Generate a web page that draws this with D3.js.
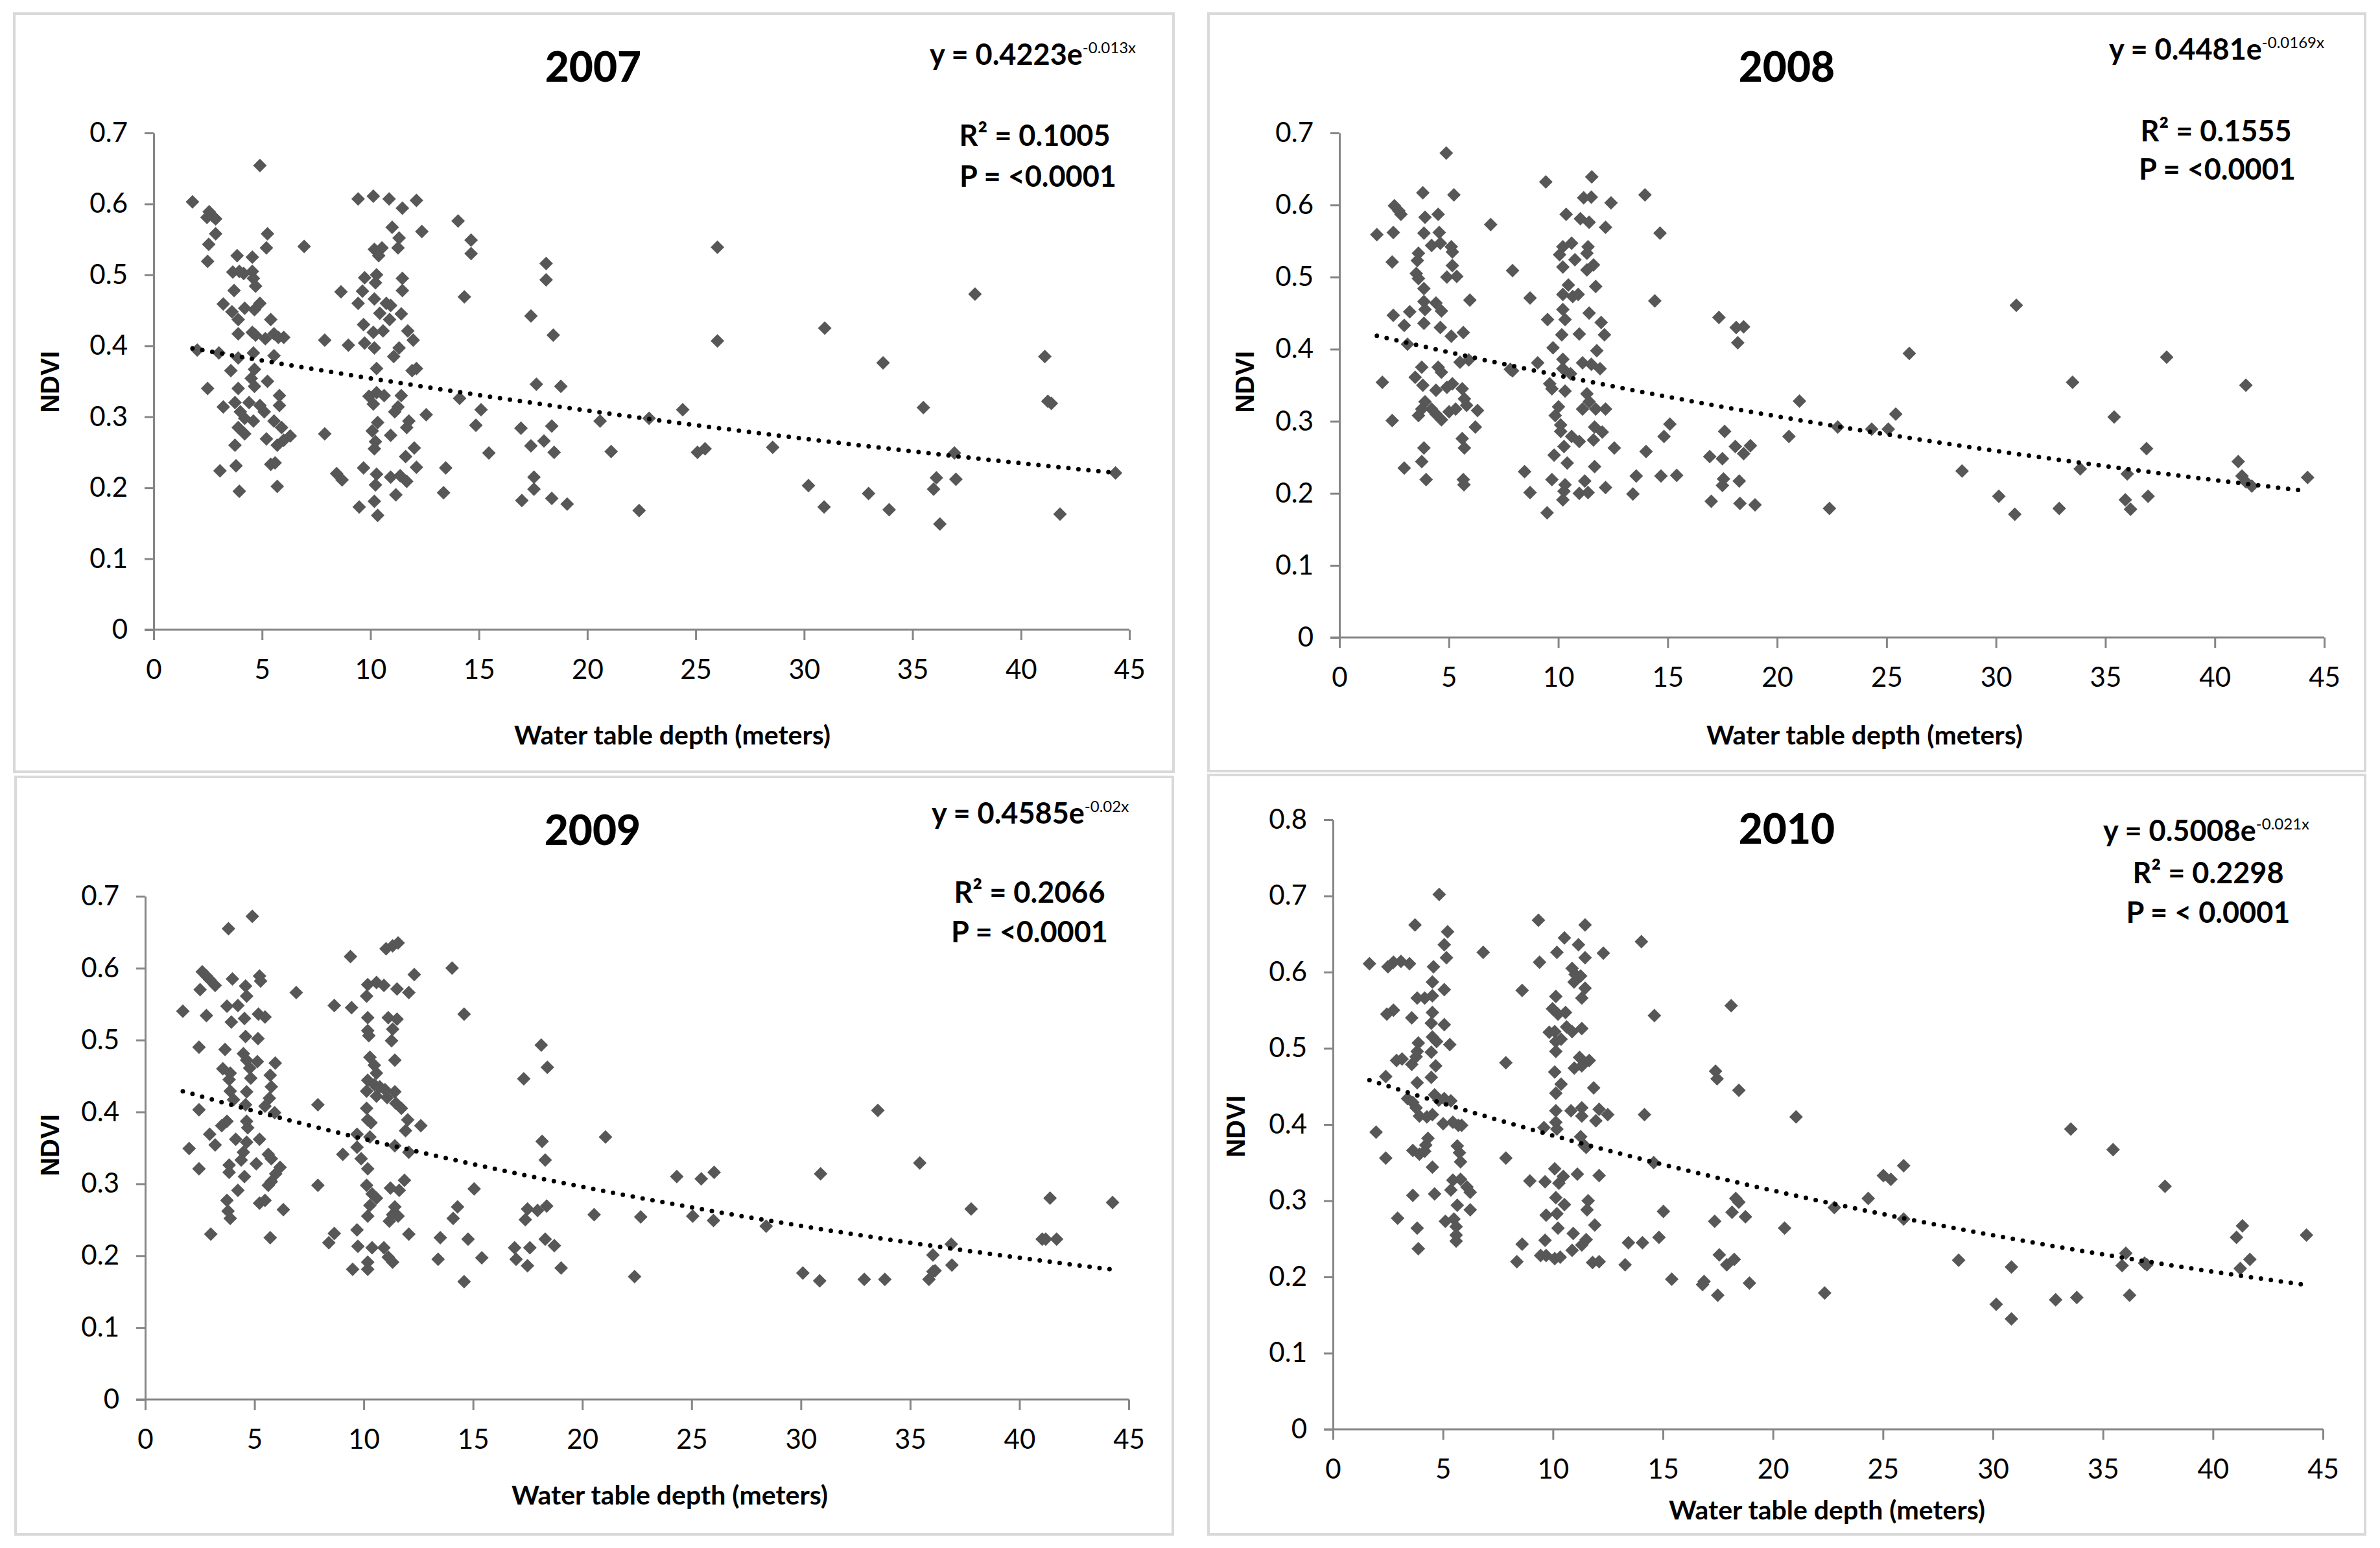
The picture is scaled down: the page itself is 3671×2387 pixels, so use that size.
<!DOCTYPE html>
<html>
<head>
<meta charset="utf-8">
<script src="https://cdn.jsdelivr.net/npm/d3@7"></script>
<style>
  body { margin: 0; background: #fff; }
  text { font-family: Lato, 'Open Sans', sans-serif; fill: #000; }
</style>
</head>
<body>
<div id="chart"></div>
<script>
// ---- data: [water table depth (m), NDVI] ----
const years = ['2007', '2008', '2009', '2010']
const coefA = ['0.4223', '0.4481', '0.4585', '0.5008']
const coefB = ['-0.013x', '-0.0169x', '-0.02x', '-0.021x']
const r2Text = ['R² = 0.1005', 'R² = 0.1555', 'R² = 0.2066', 'R² = 0.2298']
const pText = ['P = <0.0001', 'P = <0.0001', 'P = <0.0001', 'P = < 0.0001']
const yMaxes = [0.7, 0.7, 0.7, 0.8]
const xTicks = [0, 5, 10, 15, 20, 25, 30, 35, 40, 45]

const data2007 = [
  [4.90,0.654],[1.79,0.603],[2.56,0.589],[2.71,0.583],[2.86,0.579],[2.46,0.581],[2.86,0.558],[2.54,0.543],
  [2.49,0.519],[5.25,0.558],[5.20,0.538],[6.94,0.540],[3.85,0.527],[4.55,0.525],[3.65,0.504],[3.95,0.505],
  [4.15,0.502],[4.55,0.505],[4.60,0.495],[4.70,0.484],[3.71,0.478],[3.21,0.459],[3.61,0.448],[4.20,0.453],
  [4.65,0.451],[4.90,0.460],[3.90,0.437],[5.40,0.437],[3.90,0.417],[4.55,0.419],[4.70,0.415],[5.15,0.410],
  [5.55,0.417],[6.00,0.412],[5.75,0.412],[2.01,0.394],[3.01,0.390],[3.90,0.383],[4.60,0.390],[5.55,0.386],
  [3.56,0.365],[4.65,0.367],[4.50,0.354],[4.65,0.343],[5.25,0.350],[2.49,0.340],[3.90,0.340],[5.80,0.330],
  [3.21,0.314],[3.75,0.320],[4.00,0.307],[4.40,0.320],[4.90,0.316],[5.10,0.307],[5.80,0.316],[4.20,0.298],
  [4.60,0.294],[3.90,0.285],[4.20,0.276],[5.55,0.294],[5.90,0.285],[6.30,0.273],[5.20,0.269],[5.70,0.260],
  [6.00,0.267],[3.75,0.260],[5.60,0.235],[5.40,0.233],[3.06,0.224],[3.80,0.231],[3.95,0.195],[5.70,0.202],
  [9.43,0.607],[10.13,0.611],[10.86,0.607],[11.47,0.594],[12.12,0.605],[11.00,0.567],[11.32,0.552],[11.27,0.538],
  [12.37,0.561],[10.18,0.536],[10.53,0.538],[10.38,0.527],[11.47,0.495],[11.47,0.478],[9.73,0.496],[10.28,0.500],
  [10.23,0.489],[8.64,0.476],[9.63,0.477],[9.43,0.460],[10.18,0.466],[10.73,0.460],[10.93,0.457],[10.43,0.446],
  [10.88,0.437],[11.42,0.445],[9.68,0.430],[10.13,0.419],[10.58,0.421],[11.72,0.421],[11.97,0.408],[8.98,0.401],
  [9.73,0.404],[10.18,0.397],[11.32,0.397],[11.07,0.385],[7.89,0.408],[10.28,0.368],[11.92,0.365],[12.12,0.368],
  [9.93,0.329],[10.28,0.334],[10.63,0.330],[11.42,0.330],[11.27,0.314],[10.13,0.318],[11.12,0.307],[12.57,0.303],
  [10.33,0.292],[11.77,0.294],[11.67,0.285],[10.08,0.280],[10.93,0.274],[10.23,0.265],[10.18,0.255],[12.02,0.256],
  [11.62,0.244],[7.89,0.276],[9.68,0.228],[12.12,0.229],[10.28,0.219],[10.93,0.215],[11.37,0.217],[11.67,0.209],
  [10.23,0.204],[11.17,0.190],[9.48,0.173],[10.18,0.181],[10.33,0.161],[8.44,0.220],[8.69,0.211],[13.47,0.228],
  [13.37,0.193],[14.04,0.576],[14.64,0.549],[14.64,0.530],[14.33,0.469],[14.11,0.326],[15.10,0.310],[14.86,0.288],
  [15.46,0.249],[17.40,0.442],[18.10,0.516],[18.10,0.493],[18.43,0.415],[17.65,0.346],[18.78,0.343],[16.94,0.284],
  [17.40,0.259],[18.00,0.266],[18.36,0.287],[18.47,0.250],[17.54,0.215],[17.54,0.198],[16.98,0.182],[18.36,0.185],
  [19.07,0.177],[20.59,0.294],[21.10,0.251],[22.39,0.168],[22.85,0.298],[24.40,0.310],[25.08,0.250],[25.43,0.255],
  [26.00,0.539],[26.00,0.407],[28.55,0.257],[30.20,0.203],[30.95,0.425],[30.92,0.173],[32.97,0.192],[33.64,0.376],
  [33.92,0.169],[35.50,0.313],[35.97,0.198],[36.10,0.214],[36.26,0.149],[36.93,0.249],[37.00,0.212],[37.88,0.473],
  [41.10,0.385],[41.24,0.322],[41.40,0.319],[41.80,0.163],[44.36,0.221]
]

const data2008 = [
  [4.88,0.672],[3.81,0.617],[5.23,0.614],[2.51,0.599],[2.71,0.592],[2.81,0.587],[3.91,0.583],[4.51,0.587],
  [1.71,0.559],[2.46,0.562],[3.86,0.561],[4.56,0.562],[4.21,0.544],[4.61,0.547],[5.11,0.542],[5.16,0.535],
  [6.91,0.573],[3.61,0.533],[3.56,0.523],[2.41,0.521],[3.51,0.505],[3.61,0.498],[5.16,0.516],[4.91,0.500],
  [5.36,0.501],[3.86,0.484],[7.91,0.509],[3.86,0.466],[4.41,0.464],[4.66,0.453],[5.96,0.468],[3.91,0.455],
  [2.46,0.447],[3.21,0.452],[2.96,0.433],[3.86,0.436],[4.61,0.430],[5.11,0.418],[5.66,0.423],[3.11,0.407],
  [5.51,0.382],[5.91,0.385],[3.76,0.375],[4.51,0.375],[4.66,0.368],[3.46,0.361],[3.81,0.350],[1.96,0.354],
  [4.41,0.343],[4.91,0.347],[5.16,0.352],[5.61,0.345],[3.91,0.327],[3.76,0.317],[4.21,0.317],[4.41,0.310],
  [5.01,0.313],[5.31,0.317],[5.71,0.331],[5.81,0.322],[6.31,0.315],[3.61,0.308],[4.66,0.302],[2.41,0.301],
  [6.21,0.292],[5.61,0.276],[5.71,0.263],[3.86,0.263],[3.76,0.244],[2.96,0.235],[3.96,0.219],[5.66,0.219],
  [5.69,0.212],[7.81,0.372],
  [9.43,0.632],[11.53,0.639],[13.96,0.614],[11.16,0.610],[11.51,0.611],[12.41,0.603],[10.36,0.587],[11.01,0.581],
  [11.41,0.576],[12.16,0.569],[10.21,0.542],[10.61,0.547],[10.06,0.531],[10.76,0.524],[11.36,0.542],[11.31,0.533],
  [11.61,0.517],[11.31,0.510],[10.21,0.514],[10.46,0.489],[11.71,0.487],[10.21,0.476],[10.66,0.473],[10.91,0.476],
  [8.71,0.471],[10.21,0.455],[10.31,0.441],[9.51,0.441],[11.41,0.450],[11.96,0.437],[10.16,0.420],[10.96,0.421],
  [12.11,0.420],[9.76,0.402],[11.76,0.398],[9.06,0.381],[10.21,0.386],[10.21,0.373],[11.11,0.381],[11.51,0.379],
  [11.91,0.373],[7.91,0.370],[10.56,0.366],[9.61,0.352],[9.71,0.345],[10.31,0.342],[11.31,0.338],[11.41,0.327],
  [11.71,0.317],[12.16,0.317],[11.11,0.317],[10.01,0.320],[9.86,0.308],[10.11,0.295],[10.11,0.286],[10.61,0.279],
  [10.96,0.272],[11.66,0.292],[12.01,0.285],[11.61,0.274],[10.26,0.265],[12.56,0.263],[9.81,0.253],[10.41,0.242],
  [11.66,0.237],[14.01,0.258],[8.46,0.230],[9.71,0.219],[10.31,0.212],[10.26,0.203],[11.21,0.217],[10.96,0.200],
  [11.36,0.201],[12.16,0.208],[10.21,0.191],[8.71,0.201],[9.49,0.173],[13.56,0.224],[13.41,0.199],
  [14.65,0.561],[14.41,0.467],[15.10,0.296],[14.83,0.279],[14.69,0.224],[15.41,0.225],[17.34,0.444],[18.13,0.430],
  [18.47,0.431],[18.20,0.409],[16.92,0.251],[17.50,0.248],[17.60,0.286],[17.55,0.220],[17.50,0.211],[16.99,0.189],
  [18.09,0.265],[18.78,0.266],[18.47,0.255],[18.27,0.217],[18.30,0.186],[18.99,0.184],[20.54,0.279],[21.02,0.328],
  [22.39,0.179],[22.77,0.292],[24.32,0.289],[25.08,0.289],[25.42,0.310],[26.04,0.394],[28.45,0.231],[30.13,0.196],
  [30.86,0.171],[30.93,0.461],[32.89,0.179],[33.50,0.354],[33.85,0.234],[35.40,0.306],[35.91,0.191],[36.15,0.178],
  [36.00,0.227],[36.88,0.262],[36.95,0.196],[37.80,0.389],[41.07,0.244],[41.24,0.224],[41.42,0.350],[41.69,0.210],
  [44.24,0.222],[41.42,0.216]
]

const data2009 = [
  [4.90,0.672],[3.81,0.655],[2.61,0.595],[2.80,0.589],[2.95,0.584],[3.20,0.576],[2.51,0.570],[3.99,0.585],
  [5.23,0.589],[5.28,0.582],[4.59,0.575],[4.64,0.561],[6.91,0.566],[1.72,0.540],[2.80,0.534],[3.74,0.547],
  [4.24,0.548],[3.94,0.525],[4.54,0.530],[5.18,0.536],[5.48,0.532],[4.59,0.505],[5.16,0.502],[2.46,0.490],
  [3.65,0.487],[4.49,0.481],[4.64,0.472],[5.13,0.470],[5.95,0.468],[3.55,0.460],[4.78,0.461],[3.89,0.454],
  [3.84,0.445],[4.83,0.447],[5.72,0.451],[5.77,0.435],[3.89,0.429],[4.64,0.428],[5.68,0.419],[4.04,0.417],
  [4.59,0.410],[5.48,0.408],[5.92,0.399],[2.46,0.403],[3.74,0.387],[3.50,0.381],[4.64,0.387],[4.69,0.378],
  [2.95,0.369],[4.14,0.362],[5.23,0.362],[4.64,0.358],[2.01,0.349],[3.20,0.354],[4.49,0.344],[5.63,0.341],
  [5.77,0.335],[4.39,0.333],[5.08,0.328],[2.46,0.321],[3.84,0.326],[3.84,0.316],[4.54,0.310],[6.17,0.323],
  [5.97,0.314],[5.77,0.303],[5.63,0.298],[4.24,0.291],[7.90,0.298],[7.90,0.410],[3.74,0.277],[5.23,0.273],
  [5.48,0.277],[3.79,0.262],[3.89,0.252],[6.32,0.264],[3.00,0.230],[5.72,0.225],[8.65,0.231],[8.40,0.218],
  [9.39,0.616],[11.02,0.627],[11.32,0.631],[11.57,0.635],[14.04,0.600],[12.31,0.591],[10.18,0.577],[10.58,0.580],
  [10.92,0.576],[11.52,0.571],[12.06,0.566],[10.13,0.561],[8.65,0.548],[9.44,0.545],[10.18,0.531],[11.12,0.531],
  [11.52,0.529],[10.18,0.513],[10.23,0.506],[11.32,0.515],[11.27,0.499],[11.42,0.472],[10.28,0.476],[10.48,0.465],
  [10.58,0.454],[10.18,0.444],[10.48,0.438],[10.73,0.435],[10.97,0.431],[10.13,0.429],[10.58,0.422],[11.42,0.428],
  [11.07,0.420],[11.47,0.412],[11.72,0.405],[12.01,0.389],[11.91,0.374],[12.61,0.381],[10.13,0.405],[10.18,0.389],
  [10.33,0.385],[9.69,0.369],[10.28,0.365],[9.69,0.351],[9.88,0.335],[10.18,0.321],[9.04,0.341],[11.42,0.353],
  [12.06,0.344],[10.13,0.298],[10.38,0.286],[10.58,0.280],[11.86,0.305],[11.22,0.294],[11.62,0.291],[10.28,0.270],
  [10.18,0.255],[11.17,0.248],[11.42,0.268],[11.57,0.255],[11.32,0.257],[12.06,0.230],[9.69,0.236],[9.73,0.213],
  [10.38,0.211],[10.92,0.211],[11.12,0.198],[11.32,0.191],[9.49,0.181],[10.18,0.181],[10.18,0.191],[13.50,0.225],
  [13.40,0.195],[14.09,0.252],[14.29,0.268],
  [14.59,0.536],[15.05,0.293],[14.77,0.223],[15.40,0.197],[14.59,0.164],[17.32,0.446],[18.12,0.493],[18.40,0.462],
  [18.16,0.359],[18.30,0.333],[17.49,0.265],[17.39,0.250],[17.95,0.263],[18.37,0.269],[16.90,0.211],[16.97,0.195],
  [17.60,0.211],[18.30,0.223],[18.72,0.214],[17.49,0.186],[19.03,0.183],[20.54,0.257],[21.06,0.365],[22.39,0.171],
  [22.67,0.254],[24.32,0.310],[25.05,0.255],[25.44,0.307],[26.03,0.316],[26.00,0.249],[28.41,0.241],[30.09,0.176],
  [30.90,0.314],[30.86,0.165],[32.90,0.167],[33.52,0.402],[33.84,0.167],[35.44,0.329],[35.86,0.167],[36.04,0.178],
  [36.14,0.179],[36.04,0.201],[36.88,0.216],[36.91,0.187],[37.79,0.265],[41.04,0.223],[41.20,0.223],[41.40,0.280],
  [41.70,0.223],[44.26,0.274]
]

const data2010 = [
  [4.83,0.702],[3.73,0.662],[5.21,0.653],[5.06,0.636],[5.16,0.619],[6.83,0.626],[1.66,0.611],[2.50,0.607],
  [2.75,0.613],[3.09,0.614],[3.48,0.611],[4.57,0.607],[4.52,0.587],[5.06,0.577],[3.83,0.566],[4.17,0.566],
  [4.52,0.569],[8.60,0.576],[2.45,0.545],[2.75,0.550],[3.58,0.540],[4.52,0.547],[4.47,0.533],[5.06,0.531],
  [4.52,0.515],[4.71,0.509],[5.31,0.505],[3.88,0.507],[3.83,0.496],[3.78,0.489],[4.47,0.495],[2.89,0.484],
  [3.14,0.486],[3.58,0.479],[4.67,0.477],[7.86,0.481],[2.40,0.463],[3.83,0.455],[4.47,0.462],[3.39,0.434],
  [3.63,0.429],[3.78,0.422],[3.93,0.411],[4.27,0.410],[4.62,0.439],[4.81,0.432],[5.06,0.434],[5.36,0.431],
  [5.70,0.399],[4.52,0.413],[5.01,0.401],[5.45,0.403],[5.85,0.399],[1.96,0.390],[4.32,0.382],[4.22,0.373],
  [3.63,0.366],[3.93,0.361],[4.17,0.365],[5.65,0.372],[5.75,0.363],[5.80,0.351],[2.40,0.356],[7.86,0.356],
  [4.52,0.344],[5.45,0.327],[5.80,0.328],[6.09,0.318],[5.36,0.314],[6.24,0.311],[3.63,0.307],[4.62,0.309],
  [5.65,0.294],[6.24,0.288],[2.94,0.277],[3.83,0.264],[5.11,0.273],[5.50,0.276],[5.60,0.266],[5.60,0.255],
  [5.60,0.247],[3.88,0.237],
  [9.34,0.668],[11.46,0.662],[14.02,0.640],[10.52,0.645],[11.16,0.636],[10.18,0.626],[11.46,0.619],[12.29,0.625],
  [9.39,0.613],[10.87,0.605],[11.01,0.597],[11.26,0.595],[10.96,0.587],[11.46,0.579],[11.31,0.566],[10.13,0.568],
  [9.98,0.552],[10.23,0.545],[10.57,0.547],[11.31,0.526],[9.83,0.521],[10.08,0.522],[10.62,0.528],[10.87,0.522],
  [10.13,0.509],[10.37,0.512],[10.13,0.496],[11.21,0.488],[11.65,0.484],[10.97,0.474],[11.31,0.477],[10.08,0.469],
  [10.37,0.453],[10.13,0.441],[11.85,0.448],[10.13,0.418],[10.82,0.418],[11.31,0.422],[11.31,0.411],[12.10,0.420],
  [11.95,0.405],[12.49,0.413],[14.16,0.413],[10.13,0.403],[9.59,0.396],[10.18,0.394],[11.26,0.384],[11.41,0.373],
  [11.51,0.370],[8.95,0.326],[9.64,0.325],[10.08,0.342],[10.47,0.332],[10.27,0.323],[11.11,0.335],[12.10,0.333],
  [10.13,0.304],[10.52,0.295],[11.60,0.300],[11.55,0.288],[9.69,0.281],[10.18,0.283],[10.23,0.264],[10.92,0.257],
  [11.90,0.268],[11.51,0.249],[11.31,0.242],[10.87,0.235],[9.64,0.248],[8.60,0.243],[8.36,0.220],[9.44,0.228],
  [9.69,0.228],[10.08,0.224],[10.33,0.226],[11.80,0.219],[12.10,0.220],[13.43,0.245],[14.07,0.245],[13.28,0.216],
  [14.61,0.543],[14.58,0.350],[15.02,0.286],[14.82,0.252],[15.40,0.197],[17.39,0.470],[17.46,0.460],[18.10,0.556],
  [18.45,0.445],[17.35,0.273],[16.87,0.194],[16.80,0.190],[17.56,0.229],[17.49,0.176],[17.90,0.216],[18.24,0.223],
  [18.14,0.285],[18.31,0.303],[18.45,0.298],[18.75,0.279],[18.93,0.192],[20.53,0.264],[21.05,0.410],[22.35,0.179],
  [22.79,0.291],[24.33,0.303],[25.02,0.333],[25.36,0.328],[25.94,0.346],[25.94,0.276],[28.44,0.222],[30.15,0.164],
  [30.84,0.213],[30.84,0.145],[32.85,0.170],[33.54,0.394],[33.81,0.173],[35.46,0.367],[35.87,0.215],[36.04,0.231],
  [36.21,0.176],[36.89,0.218],[37.00,0.216],[37.82,0.319],[41.07,0.252],[41.34,0.267],[41.24,0.211],[41.68,0.223],
  [44.25,0.255]
]

const series = [data2007, data2008, data2009, data2010]

// ---- page layout (pixel positions of each panel) ----
const width = 3671
const height = 2387
const layout = [
  { frame: [22, 21, 1810, 1190], x0: 237, x1: 1742, y0: 971, yTop: 205,
    title: [915, 126], eq: [1434, 100], r2: [1596, 225], p: [1601, 288], ndvi: [77, 589], xlab: [1037, 1148] },
  { frame: [1864, 21, 3648, 1189], x0: 2066, x1: 3585, y0: 983, yTop: 205,
    title: [2756, 126], eq: [3253, 92], r2: [3418, 218], p: [3420, 277], ndvi: [1920, 589], xlab: [2876, 1148] },
  { frame: [24, 1198, 1809, 2366], x0: 224, x1: 1741, y0: 2158, yTop: 1382,
    title: [914, 1303], eq: [1437, 1270], r2: [1588, 1392], p: [1588, 1453], ndvi: [77, 1766], xlab: [1033, 2320] },
  { frame: [1864, 1195, 3648, 2366], x0: 2056, x1: 3583, y0: 2204, yTop: 1264,
    title: [2756, 1301], eq: [3244, 1297], r2: [3406, 1362], p: [3406, 1423], ndvi: [1906, 1737], xlab: [2818, 2343] }
]

const axisColor = '#868686'
const markerColor = '#575757'
const r = 10.5

const svg = d3
  .select('#chart')
  .append('svg')
  .attr('width', width)
  .attr('height', height)
  .attr('viewBox', [0, 0, width, height])

svg.append('rect').attr('width', width).attr('height', height).attr('fill', '#fff')

// exponential fit y = a e^(bx), least squares on ln y (as the spreadsheet does)
function expFit(pts) {
  const mx = d3.mean(pts, (d) => d[0])
  const my = d3.mean(pts, (d) => Math.log(d[1]))
  let sxy = 0
  let sxx = 0
  pts.forEach((d) => {
    sxy += (d[0] - mx) * (Math.log(d[1]) - my)
    sxx += (d[0] - mx) * (d[0] - mx)
  })
  const b = sxy / sxx
  const a = Math.exp(my - b * mx)
  return { a, b }
}

const fmtY = (d) => (d === 0 ? '0' : d3.format('.1f')(d))

years.forEach((year, i) => {
  const L = layout[i]
  const pts = series[i]
  const yMax = yMaxes[i]
  const g = svg.append('g')

  g.append('rect')
    .attr('x', L.frame[0])
    .attr('y', L.frame[1])
    .attr('width', L.frame[2] - L.frame[0])
    .attr('height', L.frame[3] - L.frame[1])
    .attr('fill', '#fff')
    .attr('stroke', '#d9d9d9')
    .attr('stroke-width', 4)

  const x = d3.scaleLinear().domain([0, 45]).range([L.x0, L.x1])
  const y = d3.scaleLinear().domain([0, yMax]).range([L.y0, L.yTop])

  const yTicks = d3.range(0, Math.round(yMax * 10) + 1).map((k) => k / 10)

  const yAxis = g
    .append('g')
    .attr('transform', `translate(${L.x0},0)`)
    .call(d3.axisLeft(y).tickValues(yTicks).tickFormat(fmtY).tickSize(14).tickSizeOuter(0).tickPadding(26))
  const xAxis = g
    .append('g')
    .attr('transform', `translate(0,${L.y0})`)
    .call(d3.axisBottom(x).tickValues(xTicks).tickSize(16).tickSizeOuter(0))

  ;[yAxis, xAxis].forEach((ax) => {
    ax.select('.domain').attr('stroke', axisColor).attr('stroke-width', 3)
    ax.selectAll('.tick line').attr('stroke', axisColor).attr('stroke-width', 3)
    ax.selectAll('.tick text')
      .attr('fill', '#111')
      .style('font-family', 'Lato, sans-serif')
      .style('font-size', '42px')
  })
  xAxis.selectAll('.tick text').attr('y', 76).attr('dy', 0)
  // x-axis line starts at the end of the y tick, as in the spreadsheet chart
  xAxis.select('.domain').attr('d', `M${L.x0 - 14},0H${L.x1}`)

  // markers
  g.append('g')
    .selectAll('path')
    .data(pts)
    .join('path')
    .attr('transform', (d) => `translate(${x(d[0])},${y(d[1])})`)
    .attr('d', `M0,${-r}L${r},0L0,${r}L${-r},0Z`)
    .attr('fill', markerColor)

  // dotted trend line
  const fit = expFit(pts)
  const [xmin, xmax] = d3.extent(pts, (d) => d[0])
  const xs = d3.range(0, 61).map((k) => xmin + ((xmax - xmin) * k) / 60)
  g.append('path')
    .datum(xs)
    .attr('fill', 'none')
    .attr('stroke', '#000')
    .attr('stroke-width', 7)
    .attr('stroke-linecap', 'round')
    .attr('stroke-dasharray', '0 15.5')
    .attr('d', d3.line().x((v) => x(v)).y((v) => y(fit.a * Math.exp(fit.b * v))))

  // texts
  g.append('text')
    .attr('x', L.title[0])
    .attr('y', L.title[1])
    .attr('text-anchor', 'middle')
    .style('font-size', '64px')
    .style('font-weight', 900)
    .text(year)

  const eq = g
    .append('text')
    .attr('x', L.eq[0])
    .attr('y', L.eq[1])
    .style('font-size', '45px')
    .style('font-weight', 700)
  eq.append('tspan').text(`y = ${coefA[i]}e`)
  eq.append('tspan').attr('dy', -18).style('font-size', '24px').style('font-weight', 400).text(coefB[i])

  g.append('text')
    .attr('x', L.r2[0])
    .attr('y', L.r2[1])
    .attr('text-anchor', 'middle')
    .style('font-size', '45px')
    .style('font-weight', 700)
    .text(r2Text[i])

  g.append('text')
    .attr('x', L.p[0])
    .attr('y', L.p[1])
    .attr('text-anchor', 'middle')
    .style('font-size', '45px')
    .style('font-weight', 700)
    .text(pText[i])

  g.append('text')
    .attr('transform', `translate(${L.ndvi[0]},${L.ndvi[1]}) rotate(-90)`)
    .attr('text-anchor', 'middle')
    .attr('dy', '0.35em')
    .style('font-family', "'Liberation Sans', Arial, sans-serif")
    .style('font-size', '40px')
    .style('font-weight', 700)
    .text('NDVI')

  g.append('text')
    .attr('x', L.xlab[0])
    .attr('y', L.xlab[1])
    .attr('text-anchor', 'middle')
    .style('font-size', '41px')
    .style('font-weight', 700)
    .text('Water table depth (meters)')
})
</script>
</body>
</html>
